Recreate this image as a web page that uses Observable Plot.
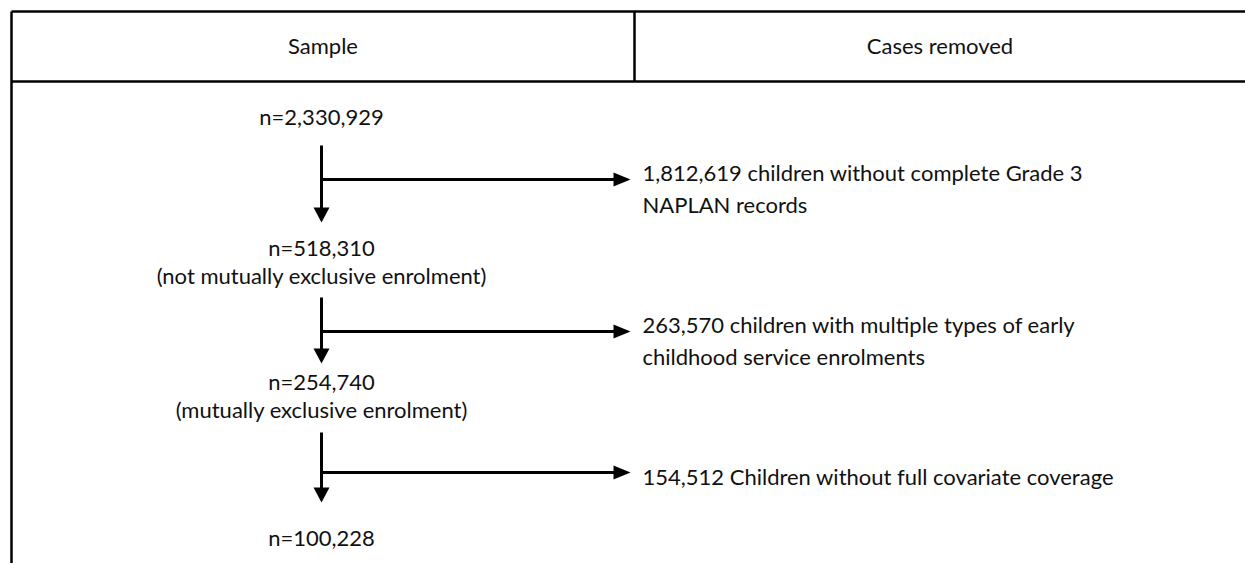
<!DOCTYPE html>
<html>
<head>
<meta charset="utf-8">
<script src="https://cdn.jsdelivr.net/npm/d3@7"></script>
<script src="https://cdn.jsdelivr.net/npm/@observablehq/plot@0.6"></script>
<style>
  html, body { margin: 0; padding: 0; background: #fff; overflow: hidden; }
  #chart svg { display: block; }
</style>
</head>
<body>
<div id="chart"></div>
<script>
// ---- Data ----
const headers = ["Sample", "Cases removed"];
const sampleCounts = ["n=2,330,929", "n=518,310", "n=254,740", "n=100,228"];
const sampleNotes = ["", "(not mutually exclusive enrolment)", "(mutually exclusive enrolment)", ""];
const removedCounts = ["1,812,619", "263,570", "154,512"];
const removedText = [
  "children without complete Grade 3\nNAPLAN records",
  "children with multiple types of early\nchildhood service enrolments",
  "Children without full covariate coverage"
];

// ---- Layout (pixel units of the diagram) ----
const W = 1245, H = 563;
const FONT = "Lato, 'Open Sans', sans-serif";
const FS = 22;
const tableLeft = 11, tableTop = 11, headerBottom = 81, colDiv = 634;
const flowX = 321;
const labelY = [117, 248, 382, 538];
const noteGap = 28;
const segTop = [145, 297, 432];
const branchY = [179, 331, 472];
const tipY = [222, 363, 502];
const tipX = 630;
const textX = 642;

const border = [
  {x1: tableLeft, y1: tableTop, x2: W + 5, y2: tableTop},
  {x1: tableLeft, y1: headerBottom, x2: W + 5, y2: headerBottom},
  {x1: tableLeft, y1: tableTop, x2: tableLeft, y2: H + 5},
  {x1: colDiv, y1: tableTop, x2: colDiv, y2: headerBottom}
];

const headerRows = headers.map((h, i) => ({
  text: h,
  x: i === 0 ? (tableLeft + colDiv) / 2 : (colDiv + W) / 2,
  y: (tableTop + headerBottom) / 2
}));

const sampleRows = sampleCounts.map((c, i) => ({text: c, x: flowX, y: labelY[i]}));
const noteRows = sampleNotes
  .map((n, i) => ({text: n, x: flowX, y: labelY[i] + noteGap}))
  .filter(d => d.text);

const removedRows = removedCounts.map((c, i) => {
  const t = c + " " + removedText[i];
  const lines = t.split("\n").length;
  return {text: t, x: textX, y: branchY[i] + (lines > 1 ? 7 : 2)};
});

const flowLines = [];
removedCounts.forEach((c, i) => {
  flowLines.push({x1: flowX, y1: segTop[i], x2: flowX, y2: tipY[i] - 12});
  flowLines.push({x1: flowX, y1: branchY[i], x2: tipX - 14, y2: branchY[i]});
});

// arrowheads as filled triangles
const heads = [];
removedCounts.forEach((c, i) => {
  // down arrow
  heads.push({id: "d" + i, x: flowX - 8, y: tipY[i] - 15});
  heads.push({id: "d" + i, x: flowX + 8, y: tipY[i] - 15});
  heads.push({id: "d" + i, x: flowX, y: tipY[i]});
  // right arrow
  heads.push({id: "r" + i, x: tipX - 17, y: branchY[i] - 7});
  heads.push({id: "r" + i, x: tipX - 17, y: branchY[i] + 7});
  heads.push({id: "r" + i, x: tipX, y: branchY[i]});
});

const chart = Plot.plot({
  width: W,
  height: H,
  margin: 0,
  x: {domain: [0, W], range: [0, W], axis: null},
  y: {domain: [0, H], range: [0, H], axis: null},
  style: {background: "#fff"},
  marks: [
    Plot.link(border, {x1: "x1", y1: "y1", x2: "x2", y2: "y2", stroke: "#000", strokeWidth: 2.5}),
    Plot.link(flowLines, {x1: "x1", y1: "y1", x2: "x2", y2: "y2", stroke: "#000", strokeWidth: 3}),
    Plot.line(heads, {x: "x", y: "y", z: "id", fill: "#000", stroke: "none"}),
    Plot.text(headerRows, {x: "x", y: "y", text: "text", fontSize: FS, fontFamily: FONT, fill: "#111", textAnchor: "middle"}),
    Plot.text(sampleRows, {x: "x", y: "y", text: "text", fontSize: FS, fontFamily: FONT, fill: "#111", textAnchor: "middle"}),
    Plot.text(noteRows, {x: "x", y: "y", text: "text", fontSize: FS, fontFamily: FONT, fill: "#111", textAnchor: "middle"}),
    Plot.text(removedRows, {x: "x", y: "y", text: "text", fontSize: FS, fontFamily: FONT, fill: "#111", textAnchor: "start", lineAnchor: "middle", lineHeight: 1.45})
  ]
});
document.getElementById("chart").appendChild(chart);
</script>
</body>
</html>
